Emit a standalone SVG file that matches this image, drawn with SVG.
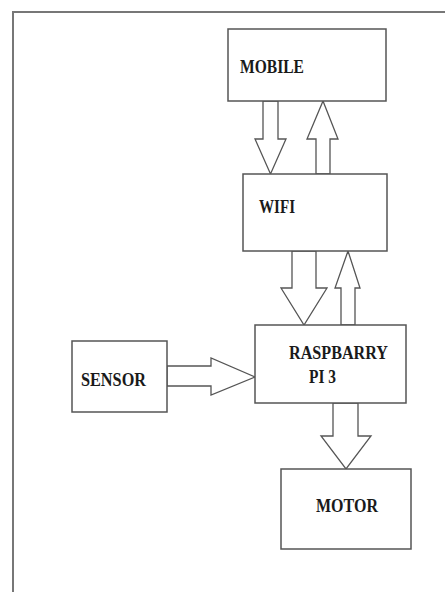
<svg xmlns="http://www.w3.org/2000/svg" width="445" height="592" viewBox="0 0 445 592">
<style>
.box{fill:#fff;stroke:#555;stroke-width:1.5}
.arr{fill:#fff;stroke:#555;stroke-width:1.3;stroke-linejoin:miter}
.lbl{font-family:"Liberation Serif","Times New Roman",serif;font-weight:bold;font-size:18px;fill:#1a1a1a}
.frame{stroke:#777;stroke-width:2;fill:none}
</style>
<rect width="445" height="592" fill="#fff"/>
<path class="frame" d="M13,592 V12 H445"/>
<g id="connectors">
<polygon class="arr" points="263,101 278,101 278,139 286,139 270.5,174 255,139 263,139"/>
<polygon class="arr" points="316,174 330,174 330,139 338,139 323,101 307,139 316,139"/>
<polygon class="arr" points="292,251 316,251 316,288 327,288 304,325 281,288 292,288"/>
<polygon class="arr" points="341,325 355,325 355,288 360,288 348,251 335,288 341,288"/>
<polygon class="arr" points="167,366 211,366 211,358 255,377 211,395 211,386 167,386"/>
<polygon class="arr" points="333,403 358,403 358,436 371,436 346,469 321,436 333,436"/>
</g>
<g id="mobile">
<rect class="box" x="228" y="29" width="158" height="72"/>
<text class="lbl" x="240" y="73" textLength="64" lengthAdjust="spacingAndGlyphs">MOBILE</text>
</g>
<g id="wifi">
<rect class="box" x="243" y="174" width="144" height="77"/>
<text class="lbl" x="259" y="213" textLength="36" lengthAdjust="spacingAndGlyphs">WIFI</text>
</g>
<g id="raspberry">
<rect class="box" x="255" y="325" width="151" height="78"/>
<text class="lbl" x="289" y="359" textLength="99" lengthAdjust="spacingAndGlyphs">RASPBARRY</text>
<text class="lbl" x="309" y="383" textLength="27" lengthAdjust="spacingAndGlyphs">PI 3</text>
</g>
<g id="sensor">
<rect class="box" x="72" y="341" width="95" height="71"/>
<text class="lbl" x="81" y="386" textLength="65" lengthAdjust="spacingAndGlyphs">SENSOR</text>
</g>
<g id="motor">
<rect class="box" x="281" y="469" width="130" height="80"/>
<text class="lbl" x="316" y="512" textLength="62" lengthAdjust="spacingAndGlyphs">MOTOR</text>
</g>
</svg>
